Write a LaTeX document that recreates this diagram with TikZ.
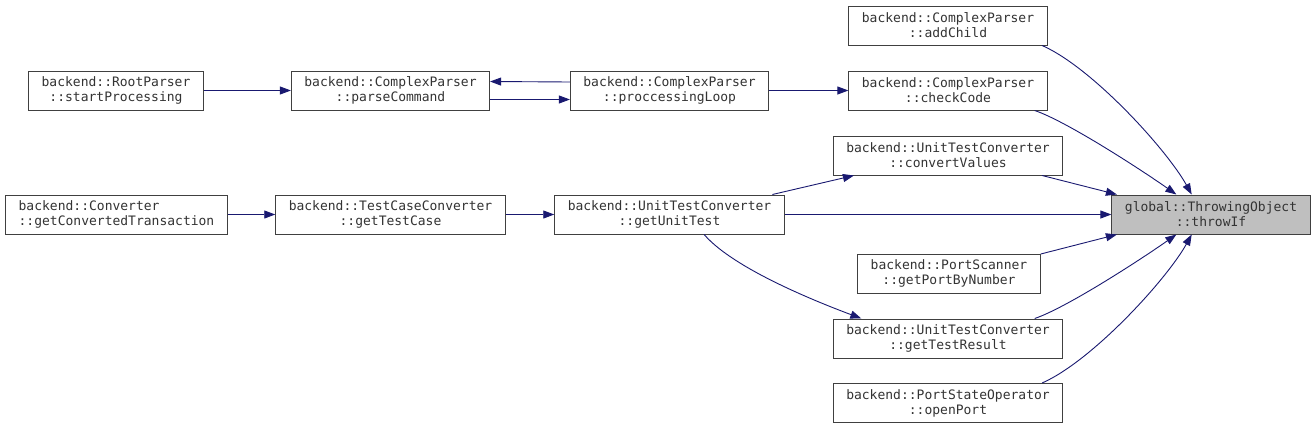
\documentclass[tikz,border=0pt]{standalone}
\usepackage{fontspec}
\setmonofont{DejaVu Sans Mono}
\usetikzlibrary{arrows.meta}
\definecolor{edgeblue}{HTML}{191970}
\definecolor{selgray}{HTML}{BFBFBF}

\tikzset{
  fn/.style={draw=black!75, line width=1pt, fill=white,
    font=\ttfamily\fontsize{13}{15}\selectfont, text=black!80,
    align=center, minimum height=39pt, inner xsep=13pt, inner ysep=2pt},
  call/.style={draw=edgeblue, line width=0.9pt,
    -{Triangle[length=11pt,width=8pt,fill=edgeblue]}}
}

\begin{document}
\begin{tikzpicture}[x=1pt,y=-1pt]
\useasboundingbox (0,0) rectangle (1316,431);

% parser chain
\node[fn] (startProc) at (116,90.5) {backend::RootParser\\::startProcessing};
\node[fn] (parseCmd) at (390.5,90.5) {backend::ComplexParser\\::parseCommand};
\node[fn] (procLoop) at (669.5,90.5) {backend::ComplexParser\\::proccessingLoop};

% converter chain
\node[fn, align=left] (getConvTrans) at (116.5,214.5) {backend::Converter\\::getConvertedTransaction};
\node[fn] (getTestCase) at (390.5,214.5) {backend::TestCaseConverter\\::getTestCase};
\node[fn] (getUnitTest) at (669.5,214.5) {backend::UnitTestConverter\\::getUnitTest};

% direct callers
\node[fn] (addChild) at (948,25.5) {backend::ComplexParser\\::addChild};
\node[fn] (checkCode) at (948,90.5) {backend::ComplexParser\\::checkCode};
\node[fn] (convValues) at (948,155.5) {backend::UnitTestConverter\\::convertValues};
\node[fn] (getPortNum) at (949,273.5) {backend::PortScanner\\::getPortByNumber};
\node[fn] (getTestRes) at (948,338.5) {backend::UnitTestConverter\\::getTestResult};
\node[fn] (openPort) at (948,403) {backend::PortStateOperator\\::openPort};

% the function itself
\node[fn, fill=selgray] (throwIf) at (1211,214.5) {global::ThrowingObject\\::throwIf};

% calls on the left
\draw[call] (startProc) -- (parseCmd);
\draw[call] ([yshift=-9pt]parseCmd.east) -- ([yshift=-9pt]procLoop.west);
\draw[call] ([yshift=8.5pt]procLoop.west) -- ([yshift=9pt]parseCmd.east);
\draw[call] (procLoop) -- (checkCode);
\draw[call] (getConvTrans) -- (getTestCase);
\draw[call] (getTestCase) -- (getUnitTest);
\draw[call] (getUnitTest.11.5) -- (convValues.192);
\draw[call] (getUnitTest.-30) .. controls +(30,35) and +(-40,-15) .. (getTestRes.167);

% calls into throwIf
\draw[call] (addChild.-12) .. controls +(50,22) and +(-25,-45) .. (throwIf.134);
\draw[call] (checkCode.-13) .. controls +(30,10) and +(-40,-28) .. (throwIf.150);
\draw[call] (convValues.-12) -- (throwIf.168);
\draw[call] (getUnitTest) -- (throwIf);
\draw[call] (getPortNum.12) -- (throwIf.192);
\draw[call] (getTestRes.13) .. controls +(30,-10) and +(-40,28) .. (throwIf.210);
\draw[call] (openPort.12) .. controls +(50,-22) and +(-25,45) .. (throwIf.226);
\end{tikzpicture}
\end{document}
